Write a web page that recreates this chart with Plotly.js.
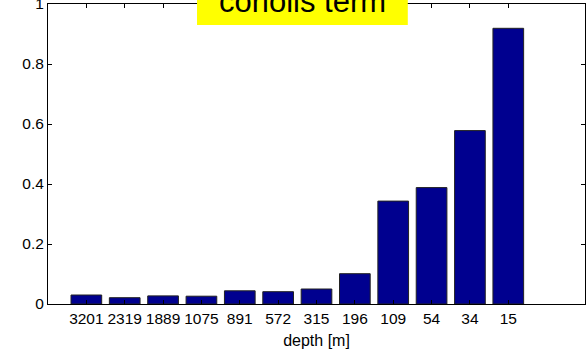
<!DOCTYPE html>
<html>
<head>
<meta charset="utf-8">
<script src="https://cdn.plot.ly/plotly-3.0.1.min.js"></script>
<style>
  html, body { margin: 0; padding: 0; background: #fff; }
  #chart { width: 587px; height: 354px; }
</style>
</head>
<body>
<div id="chart"></div>
<script>
// Station depths (m), shallowest on the right
const depthLabels = ['3201', '2319', '1889', '1075', '891', '572', '315', '196', '109', '54', '34', '15'];
// Bar positions on the category axis
const positions = [1, 2, 3, 4, 5, 6, 7, 8, 9, 10, 11, 12];
// Relative size of the coriolis term at each depth
const coriolisValues = [0.030, 0.021, 0.027, 0.026, 0.044, 0.041, 0.050, 0.101, 0.343, 0.388, 0.578, 0.919];
const yTicks = [0, 0.2, 0.4, 0.6, 0.8, 1];
const yTickText = ['0', '0.2', '0.4', '0.6', '0.8', '1'];

const font = 'Liberation Sans, Arial, Helvetica, sans-serif';

const trace = {
  type: 'bar',
  x: positions,
  y: coriolisValues,
  width: 0.8,
  marker: { color: '#00008f', line: { color: '#222222', width: 1 } },
  hoverinfo: 'skip'
};

const layout = {
  width: 587,
  height: 354,
  margin: { l: 48, r: 2, t: 4, b: 50 },
  paper_bgcolor: '#ffffff',
  plot_bgcolor: '#ffffff',
  showlegend: false,
  font: { family: font, size: 15.5, color: '#000' },
  xaxis: {
    range: [0, 14],
    tickmode: 'array',
    tickvals: positions,
    ticktext: depthLabels,
    ticks: 'inside',
    ticklen: 4,
    tickcolor: '#000',
    showgrid: false,
    zeroline: false,
    showline: true,
    linecolor: '#000',
    linewidth: 1,
    mirror: 'ticks',
    tickfont: { family: font, size: 15.5, color: '#000' },
    title: { text: 'depth [m]', font: { family: font, size: 16, color: '#000' }, standoff: 9 }
  },
  yaxis: {
    range: [0, 1],
    tickmode: 'array',
    tickvals: yTicks,
    ticktext: yTickText,
    ticks: 'inside',
    ticklen: 4,
    tickcolor: '#000',
    showgrid: false,
    zeroline: false,
    showline: true,
    linecolor: '#000',
    linewidth: 1,
    mirror: 'ticks',
    ticklabeloverflow: 'allow',
    tickfont: { family: font, size: 15.5, color: '#000' }
  },
  shapes: [{
    type: 'rect',
    xref: 'paper', yref: 'paper',
    x0: 0.2775, x1: 0.670,
    y0: 0.93, y1: 1.05,
    fillcolor: '#ffff00',
    line: { width: 0 },
    layer: 'above'
  }],
  annotations: [{
    xref: 'paper', yref: 'paper',
    x: 0.474, y: 0.945,
    xanchor: 'center', yanchor: 'bottom',
    text: 'coriolis term',
    showarrow: false,
    font: { family: font, size: 31, color: '#000' }
  }]
};

Plotly.newPlot('chart', [trace], layout, { staticPlot: true, displayModeBar: false });
</script>
</body>
</html>
